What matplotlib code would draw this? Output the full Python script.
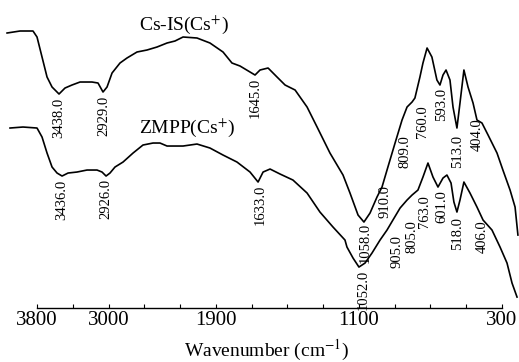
import numpy as np
import matplotlib
matplotlib.use('Agg')
import matplotlib.pyplot as plt

plt.rcParams['font.family'] = ['Liberation Serif', 'DejaVu Serif']
plt.rcParams['mathtext.fontset'] = 'stix'

# Cs-IS(Cs+) spectrum (wavenumber cm-1, transmittance a.u.)
cs_is_wn = [4135, 3990, 3845, 3800, 3744, 3688, 3632, 3554, 3487, 3409, 3319, 3185,
            3118, 3062, 3017, 2961, 2872, 2794, 2682, 2570, 2458, 2346, 2257, 2167,
            2011, 1933, 1860, 1810, 1765, 1709, 1681, 1653, 1608, 1558, 1513, 1457,
            1390, 1334, 1262, 1189, 1150, 1105, 1072, 1038, 999, 971, 938, 898,
            859, 831, 803, 787, 759, 742, 719, 692, 664, 647, 630, 613,
            591, 574, 552, 535, 513, 490, 462, 440, 412, 378, 328, 295,
            255, 227, 211]
cs_is_t = [275, 277, 277, 271, 251, 231, 221, 214, 220, 223, 226, 226,
           225, 216, 221, 235, 245, 250, 256, 258, 261, 265, 267, 271,
           270, 265, 256, 245, 242, 236, 233, 238, 240, 231, 223, 218,
           201, 181, 155, 133, 115, 93, 86, 95, 111, 121, 141, 165,
           188, 201, 206, 210, 231, 245, 260, 251, 228, 223, 233, 238,
           228, 201, 180, 205, 238, 221, 205, 188, 185, 173, 155, 138,
           118, 101, 73]

# ZMPP(Cs+) spectrum
zmpp_wn = [4102, 3957, 3800, 3744, 3688, 3632, 3576, 3520, 3453, 3353, 3241, 3129,
           3073, 3028, 2984, 2928, 2838, 2726, 2615, 2503, 2425, 2346, 2257, 2167,
           2011, 1933, 1860, 1782, 1709, 1664, 1636, 1597, 1541, 1469, 1390, 1318,
           1245, 1178, 1167, 1133, 1100, 1066, 1027, 982, 943, 910, 870, 831,
           803, 770, 742, 714, 686, 658, 630, 608, 585, 569, 552, 535,
           513, 479, 440, 406, 356, 311, 272, 244, 216]
zmpp_t = [180, 181, 180, 171, 155, 141, 135, 132, 135, 136, 138, 138,
          136, 132, 135, 141, 146, 155, 163, 165, 165, 162, 162, 162,
          164, 160, 153, 146, 136, 126, 136, 139, 134, 128, 115, 96,
          81, 68, 61, 50, 41, 45, 55, 68, 78, 88, 100, 108,
          113, 118, 131, 145, 131, 121, 130, 133, 125, 106, 96, 108,
          126, 115, 101, 88, 78, 61, 45, 25, 11]

# peak annotations: text, x position (cm-1), top of text
cs_is_peaks = ['3438.0', '2929.0', '1645.0', '1058.0', '910.0', '809.0',
               '760.0', '593.0', '513.0', '404.0']
cs_is_peak_x = [3554, 3051, 1681, 1066, 954, 842, 747, 636, 546, 440]
cs_is_peak_y = [210, 212, 230, 85, 123, 173, 203, 220, 173, 190]

zmpp_peaks = ['3436.0', '2926.0', '1633.0', '1052.0', '905.0', '805.0',
              '763.0', '601.0', '518.0', '406.0']
zmpp_peak_x = [3520, 3028, 1653, 1077, 887, 803, 731, 636, 546, 412]
zmpp_peak_y = [128, 129, 123, 38, 73, 88, 113, 118, 91, 88]

tick_vals = [3800, 3400, 3000, 2600, 2200, 1900, 1700, 1500, 1300, 1100, 900, 700, 500, 300]
tick_text = ['3800', '', '3000', '', '', '1900', '', '', '', '1100', '', '', '', '300']


# wavenumbers above 2000 are drawn at half scale
def fwd(w):
    w = np.asarray(w, dtype=float)
    return np.where(w > 2000, 2000 + (w - 2000) / 2, w)


def inv(u):
    u = np.asarray(u, dtype=float)
    return np.where(u > 2000, 2000 + 2 * (u - 2000), u)


fig = plt.figure(figsize=(5.19, 3.62), dpi=100)
ax = fig.add_axes([0, 0.149, 1, 0.851])
ax.set_xscale('function', functions=(fwd, inv))

ax.plot(cs_is_wn, cs_is_t, color='black', lw=1.2)
ax.plot(zmpp_wn, zmpp_t, color='black', lw=1.2)

for txt, x, y in zip(cs_is_peaks, cs_is_peak_x, cs_is_peak_y):
    ax.text(x, y, txt, rotation=90, ha='center', va='top', fontsize=10.5)
for txt, x, y in zip(zmpp_peaks, zmpp_peak_x, zmpp_peak_y):
    ax.text(x, y, txt, rotation=90, ha='center', va='top', fontsize=10.5)

ax.text(2156, 283, 'Cs-IS(Cs$^{+}$)', ha='center', va='center', fontsize=14)
ax.text(2123, 180, 'ZMPP(Cs$^{+}$)', ha='center', va='center', fontsize=14)

ax.set_xlim(4214, 205)
ax.set_ylim(0, 308)
ax.set_xticks(tick_vals)
ax.set_xticklabels(tick_text)
ax.tick_params(axis='x', direction='in', length=3, width=0.8, pad=2, labelsize=15)
ax.set_yticks([])
for s in ['left', 'top', 'right']:
    ax.spines[s].set_visible(False)
ax.spines['bottom'].set_bounds(300, 3800)
ax.spines['bottom'].set_linewidth(1.0)
ax.patch.set_visible(False)

fig.text(267 / 519, 1 - 350 / 362, 'Wavenumber (cm$^{-1}$)', ha='center', va='center', fontsize=14)

fig.savefig('out.png', dpi=100)
